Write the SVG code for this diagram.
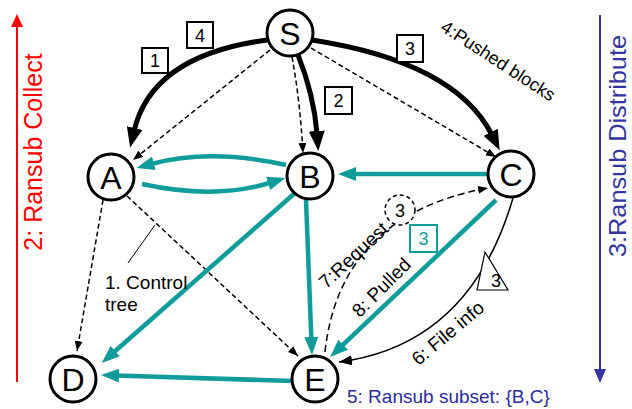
<svg xmlns="http://www.w3.org/2000/svg" width="632" height="409" viewBox="0 0 632 409">
<defs>
<style>
.node circle{fill:#fff;stroke:#000;stroke-width:3}
.node text{font-family:"Liberation Sans",Arial,sans-serif;font-size:32px;text-anchor:middle;fill:#000}
.thick{fill:none;stroke:#000;stroke-width:5}
.dash{fill:none;stroke:#000;stroke-width:1.5;stroke-dasharray:5,3}
.teal{fill:none;stroke:#119C9C;stroke-width:4.5}
.thin{fill:none;stroke:#000;stroke-width:1.5}
.lbl{font-family:"Liberation Sans",Arial,sans-serif;font-size:19px;fill:#000}
.num{font-family:"Liberation Sans",Arial,sans-serif;font-size:18px;fill:#000;text-anchor:middle}
.box{fill:#fff;stroke:#000;stroke-width:2}
</style>
<marker id="mBlk" viewBox="0 0 20 16" markerWidth="20" markerHeight="16" refX="3" refY="8" orient="auto" markerUnits="userSpaceOnUse"><path d="M0,0 L20,8 L0,16 z" fill="#000"/></marker>
<marker id="mTeal" viewBox="0 0 18 14" markerWidth="18" markerHeight="14" refX="3" refY="7" orient="auto" markerUnits="userSpaceOnUse"><path d="M0,0 L18,7 L0,14 z" fill="#119C9C"/></marker>
<marker id="mDash" viewBox="0 0 10 8" markerWidth="10" markerHeight="8" refX="10" refY="4" orient="auto" markerUnits="userSpaceOnUse"><path d="M0,0 L10,4 L0,8 z" fill="#000"/></marker>
<marker id="mThin" viewBox="0 0 13 10" markerWidth="13" markerHeight="10" refX="13" refY="5" orient="auto" markerUnits="userSpaceOnUse"><path d="M0,0 L13,5 L0,10 z" fill="#000"/></marker>
</defs>
<rect width="632" height="409" fill="#fff"/>

<g id="side-arrows">
<line x1="17" y1="382" x2="17" y2="26" stroke="#FF0000" stroke-width="2"/>
<polygon points="17,14 11,27 23,27" fill="#FF0000"/>
<text x="42" y="152" transform="rotate(-90 42 152)" text-anchor="middle" font-family="Liberation Sans,Arial,sans-serif" font-size="25" fill="#FF0000">2: Ransub Collect</text>
<line x1="600" y1="15" x2="600" y2="370" stroke="#3535A0" stroke-width="2"/>
<polygon points="600,383 594,369 606,369" fill="#3535A0"/>
<text x="626" y="146" transform="rotate(-90 626 146)" text-anchor="middle" font-family="Liberation Sans,Arial,sans-serif" font-size="24" textLength="222" lengthAdjust="spacingAndGlyphs" fill="#3535A0">3:Ransub Distribute</text>
</g>

<g id="connectors">
<path class="dash" d="M270,50 L133,160" marker-end="url(#mDash)"/>
<path class="dash" d="M292,57 Q300,100 303,153" marker-end="url(#mDash)"/>
<path class="dash" d="M311,48 L496,157" marker-end="url(#mDash)"/>
<path class="dash" d="M103,200 L77,351" marker-end="url(#mDash)"/>
<path class="dash" d="M127,196 L298,356" marker-end="url(#mDash)"/>
<path class="dash" style="stroke-dasharray:7,4" d="M325,352 Q340,215 488,188" marker-end="url(#mDash)"/>
<path class="thin" d="M513,198 Q470,345 339,362" marker-end="url(#mThin)"/>

<path class="thick" d="M267,40 Q152,55 134,131" marker-end="url(#mBlk)"/>
<path class="thick" d="M298,55 Q314,95 317,134" marker-end="url(#mBlk)"/>
<path class="thick" d="M312,40 Q455,62 492,135" marker-end="url(#mBlk)"/>

<path class="teal" d="M488,174 L353,174" marker-end="url(#mTeal)"/>
<path class="teal" d="M286,165 Q210,148 151,164" marker-end="url(#mTeal)"/>
<path class="teal" d="M142,184 Q215,200 271,182.5" marker-end="url(#mTeal)"/>
<path class="teal" d="M295,193 L113,353" marker-end="url(#mTeal)"/>
<path class="teal" d="M306,200 L311.4,340" marker-end="url(#mTeal)"/>
<path class="teal" d="M292,381 L116,375.5" marker-end="url(#mTeal)"/>
<path class="teal" d="M496,200 L341,346.7" marker-end="url(#mTeal)"/>

<line x1="128" y1="263" x2="155" y2="225" stroke="#000" stroke-width="1"/>
</g>

<g id="labels">
<rect class="box" x="142" y="48" width="26" height="25"/>
<text class="num" x="155" y="67">1</text>
<rect class="box" x="187" y="22" width="26" height="26"/>
<text class="num" x="200" y="42">4</text>
<rect class="box" x="325" y="87" width="27" height="27"/>
<text class="num" x="338.5" y="107">2</text>
<rect class="box" x="397" y="35" width="26" height="27"/>
<text class="num" x="410" y="55">3</text>
<text class="num" x="495" y="66" transform="rotate(33 495 66)">4:Pushed blocks</text>

<circle cx="400" cy="210" r="15" fill="#fff" stroke="#000" stroke-width="1.5" stroke-dasharray="4,3"/>
<text class="num" x="400" y="216.5">3</text>
<rect x="410" y="225" width="27" height="27" fill="#fff" stroke="#119C9C" stroke-width="2"/>
<text class="num" x="423.5" y="245" style="fill:#119C9C">3</text>
<polygon points="485,252 477,290 508,290" fill="#fff" stroke="#000" stroke-width="1.2"/>
<text class="num" x="496" y="287">3</text>

<text class="lbl" x="358" y="260" transform="rotate(-43 358 260)" text-anchor="middle">7:Request</text>
<text class="lbl" x="386" y="292" transform="rotate(-45 386 292)" text-anchor="middle">8: Pulled</text>
<text class="lbl" x="452" y="338" transform="rotate(-40 452 338)" text-anchor="middle">6: File info</text>
<text class="lbl" x="105" y="289">1. Control</text>
<text class="lbl" x="105" y="311">tree</text>
<text class="lbl" x="347" y="403" style="fill:#2B2B9B">5: Ransub subset: {B,C}</text>
</g>

<g id="node-S" class="node"><circle cx="290" cy="33" r="23"/><text x="290" y="44.5">S</text></g>
<g id="node-A" class="node"><circle cx="111" cy="177" r="23"/><text x="111" y="188.5">A</text></g>
<g id="node-B" class="node"><circle cx="310" cy="176" r="23"/><text x="310" y="187.5">B</text></g>
<g id="node-C" class="node"><circle cx="511" cy="174" r="23"/><text x="511" y="185.5">C</text></g>
<g id="node-D" class="node"><circle cx="73" cy="379" r="23"/><text x="73" y="390.5">D</text></g>
<g id="node-E" class="node"><circle cx="315" cy="379" r="23"/><text x="315" y="390.5">E</text></g>
</svg>
